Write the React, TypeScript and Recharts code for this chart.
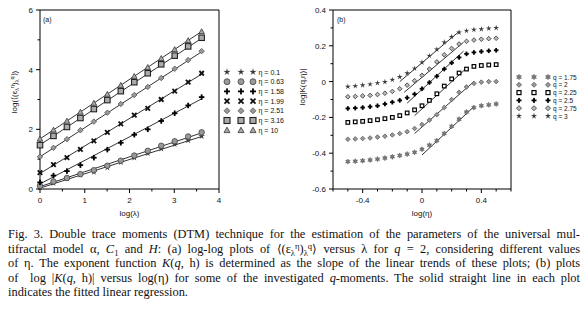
import React from "react";
import { ScatterChart, Scatter, XAxis, YAxis, ReferenceLine } from "recharts";

// ---- panel (a): log<(eps^eta)^q> vs log(lambda), q = 2
const lambdaLog = [0, 0.301, 0.602, 0.903, 1.204, 1.505, 1.806, 2.107, 2.408, 2.709, 3.01, 3.311, 3.612];
const etaLabels = ["0.1", "0.63", "1.58", "1.99", "2.51", "3.16", "10"];
const etaKinds = ["star5", "circle", "plus", "xcross", "diamond", "square", "triangle"];
const eta01 = [0.05, 0.2, 0.35, 0.47, 0.57, 0.72, 0.9, 1.05, 1.2, 1.35, 1.5, 1.63, 1.77];
const eta063 = [0.1, 0.25, 0.37, 0.5, 0.63, 0.78, 0.95, 1.12, 1.28, 1.45, 1.6, 1.76, 1.9];
const eta158 = [0.22, 0.45, 0.6, 0.8, 1.05, 1.32, 1.55, 1.82, 2.0, 2.28, 2.54, 2.8, 3.08];
const eta199 = [0.55, 0.82, 1.05, 1.33, 1.61, 1.9, 2.18, 2.48, 2.7, 3.0, 3.28, 3.58, 3.88];
const eta251 = [1.08, 1.38, 1.67, 1.97, 2.26, 2.56, 2.85, 3.15, 3.42, 3.72, 4.03, 4.32, 4.62];
const eta316 = [1.47, 1.78, 2.08, 2.38, 2.68, 2.98, 3.28, 3.58, 3.88, 4.18, 4.47, 4.78, 5.07];
const eta10 = [1.68, 1.98, 2.28, 2.58, 2.88, 3.18, 3.48, 3.78, 4.08, 4.38, 4.68, 4.98, 5.28];
// fitted regression lines (value at first and last lambda)
const fitStartA = [0.03, 0.08, 0.17, 0.52, 1.08, 1.48, 1.68];
const fitEndA = [1.76, 1.88, 3.02, 3.85, 4.6, 5.05, 5.28];
const xTicksA = [0, 0.5, 1, 1.5, 2, 2.5, 3, 3.5, 4];
const xLabelsA = [0, 1, 2, 3, 4];
const yTicksA = [0, 1, 2, 3, 4, 5, 6];
const yLabelsA = [0, 2, 4, 6];

// ---- panel (b): log|K(q,eta)| vs log(eta)
const etaLog = [-0.5, -0.45, -0.4, -0.35, -0.3, -0.25, -0.2, -0.15, -0.1, -0.05, 0, 0.05, 0.1, 0.15, 0.2, 0.25, 0.3, 0.35, 0.4, 0.45, 0.5];
const qLabels = ["1.75", "2", "2.25", "2.5", "2.75", "3"];
const qKinds = ["star6", "diamond", "osquare", "plus", "odiamond", "star5"];
const k175 = [-0.447, -0.445, -0.442, -0.438, -0.433, -0.427, -0.42, -0.413, -0.405, -0.395, -0.378, -0.355, -0.33, -0.29, -0.25, -0.21, -0.17, -0.145, -0.135, -0.13, -0.125];
const k200 = [-0.322, -0.32, -0.318, -0.315, -0.31, -0.305, -0.298, -0.29, -0.28, -0.262, -0.24, -0.215, -0.185, -0.145, -0.1, -0.06, -0.03, -0.01, -0.003, 0, 0];
const k225 = [-0.228, -0.225, -0.222, -0.218, -0.213, -0.207, -0.2, -0.19, -0.175, -0.158, -0.135, -0.105, -0.068, -0.025, 0.015, 0.048, 0.07, 0.085, 0.09, 0.093, 0.095];
const k250 = [-0.15, -0.148, -0.145, -0.14, -0.135, -0.125, -0.115, -0.105, -0.09, -0.07, -0.04, -0.005, 0.03, 0.07, 0.105, 0.135, 0.155, 0.163, 0.168, 0.172, 0.175];
const k275 = [-0.085, -0.083, -0.08, -0.077, -0.072, -0.065, -0.055, -0.04, -0.02, 0.005, 0.035, 0.07, 0.11, 0.15, 0.185, 0.21, 0.225, 0.232, 0.237, 0.24, 0.242];
const k300 = [-0.028, -0.025, -0.02, -0.015, -0.008, -0.002, 0.01, 0.026, 0.047, 0.073, 0.107, 0.144, 0.18, 0.22, 0.25, 0.275, 0.284, 0.29, 0.293, 0.297, 0.3];
const fitX1B = [0, -0.05, -0.05, -0.1, -0.12, -0.15];
const fitY1B = [-0.41, -0.29, -0.19, -0.12, -0.06, 0.0];
const fitX2B = [0.35, 0.35, 0.3, 0.28, 0.28, 0.25];
const fitY2B = [-0.14, 0.0, 0.075, 0.17, 0.22, 0.28];
const xTicksB = [-0.6, -0.5, -0.4, -0.3, -0.2, -0.1, 0, 0.1, 0.2, 0.3, 0.4, 0.5, 0.6];
const xLabelsB = [-0.4, 0, 0.4];
const yTicksB = [-0.6, -0.5, -0.4, -0.3, -0.2, -0.1, 0, 0.1, 0.2, 0.3, 0.4];
const yLabelsB = [-0.6, -0.4, -0.2, 0, 0.2, 0.4];

const seriesA = [eta01, eta063, eta158, eta199, eta251, eta316, eta10];
const seriesB = [k175, k200, k225, k250, k275, k300];

const SANS = "Liberation Sans, Arial, sans-serif";

function starPts(cx: number, cy: number, R: number, r: number, n: number) {
  const pts: string[] = [];
  for (let i = 0; i < n * 2; i++) {
    const a = (Math.PI * i) / n - Math.PI / 2;
    const rr = i % 2 === 0 ? R : r;
    pts.push(`${cx + rr * Math.cos(a)},${cy + rr * Math.sin(a)}`);
  }
  return pts.join(" ");
}

function Mark({ cx, cy, kind, s }: { cx: number; cy: number; kind: string; s: number }) {
  const h = s / 2;
  switch (kind) {
    case "star5":
      return <polygon points={starPts(cx, cy, h + 0.8, h * 0.45, 5)} fill="#3a3a3a" />;
    case "star6":
      return <polygon points={starPts(cx, cy, h + 0.3, h * 0.6, 6)} fill="#777" stroke="#555" strokeWidth={0.5} />;
    case "circle":
      return <circle cx={cx} cy={cy} r={h} fill="#999" stroke="#444" strokeWidth={0.8} />;
    case "plus":
      return (
        <g fill="#000">
          <rect x={cx - h} y={cy - 0.9} width={s} height={1.8} />
          <rect x={cx - 0.9} y={cy - h} width={1.8} height={s} />
        </g>
      );
    case "xcross":
      return (
        <g stroke="#111" strokeWidth={1.8}>
          <line x1={cx - h + 0.5} y1={cy - h + 0.5} x2={cx + h - 0.5} y2={cy + h - 0.5} />
          <line x1={cx - h + 0.5} y1={cy + h - 0.5} x2={cx + h - 0.5} y2={cy - h + 0.5} />
        </g>
      );
    case "diamond":
      return <polygon points={`${cx},${cy - h} ${cx + h},${cy} ${cx},${cy + h} ${cx - h},${cy}`} fill="#999" stroke="#555" strokeWidth={0.8} />;
    case "odiamond":
      return <polygon points={`${cx},${cy - h} ${cx + h},${cy} ${cx},${cy + h} ${cx - h},${cy}`} fill="#bbb" stroke="#444" strokeWidth={0.9} />;
    case "square":
      return <rect x={cx - h} y={cy - h} width={s} height={s} fill="#aaa" stroke="#222" strokeWidth={1.1} />;
    case "osquare":
      return <rect x={cx - h + 0.5} y={cy - h + 0.5} width={s - 1} height={s - 1} fill="#fff" stroke="#000" strokeWidth={1.2} />;
    case "triangle":
      return <polygon points={`${cx},${cy - h} ${cx + h},${cy + h * 0.8} ${cx - h},${cy + h * 0.8}`} fill="#aaa" stroke="#333" strokeWidth={0.8} />;
    default:
      return null;
  }
}

const isIn = (v: number, list: number[]) => list.some((l) => Math.abs(l - v) < 1e-6);
const fmt = (v: number) => (Math.abs(v) < 1e-9 ? "0" : String(Math.round(v * 10) / 10));

function makeXTick(labels: number[]) {
  return (p: any) => {
    const v = p.payload.value;
    const major = isIn(v, labels);
    return (
      <g>
        <line x1={p.x} y1={p.y} x2={p.x} y2={p.y + (major ? 4 : 2.5)} stroke="#000" strokeWidth={1} />
        {major && (
          <text x={p.x} y={p.y + 14} textAnchor="middle" fontSize={8} fontFamily={SANS} fill="#111">
            {fmt(v)}
          </text>
        )}
      </g>
    );
  };
}

function makeYTick(labels: number[]) {
  return (p: any) => {
    const v = p.payload.value;
    const major = isIn(v, labels);
    return (
      <g>
        <line x1={p.x} y1={p.y} x2={p.x - (major ? 4 : 2.5)} y2={p.y} stroke="#000" strokeWidth={1} />
        {major && (
          <text x={p.x - 7} y={p.y + 3} textAnchor="end" fontSize={8} fontFamily={SANS} fill="#111">
            {fmt(v)}
          </text>
        )}
      </g>
    );
  };
}

const YLabelA = (props: any) => {
  const vb = props.viewBox;
  const x = vb.x + 7;
  const y = 92;
  return (
    <text transform={`translate(${x},${y}) rotate(-90)`} textAnchor="middle" fontSize={8} fontFamily={SANS} fill="#111">
      log(⟨(ε<tspan fontSize={5.5} dy={2}>λ</tspan>
      <tspan fontSize={5.5} dy={-5}>η</tspan>
      <tspan dy={3}>)</tspan>
      <tspan fontSize={5.5} dy={2}>λ</tspan>
      <tspan fontSize={5.5} dy={-5}>q</tspan>
      <tspan dy={3}>⟩)</tspan>
    </text>
  );
};

const YLabelB = (props: any) => {
  const vb = props.viewBox;
  const x = vb.x + 2;
  const y = 87;
  return (
    <text transform={`translate(${x},${y}) rotate(-90)`} textAnchor="middle" fontSize={8} fontFamily={SANS} fill="#111">
      log|K(q,η)|
    </text>
  );
};

function PanelA() {
  return (
    <ScatterChart width={265} height={222} margin={{ top: 10, right: 46, bottom: 0, left: 10 }}>
      <XAxis
        type="number"
        dataKey="x"
        domain={[0, 4]}
        ticks={xTicksA}
        interval={0}
        tickSize={0}
        tickMargin={0}
        tickLine={false}
        tick={makeXTick(xLabelsA)}
        stroke="#000"
        height={33}
        label={{ value: "log(λ)", position: "insideBottom", offset: 6, fontSize: 8, fontFamily: SANS, fill: "#111" }}
      />
      <YAxis
        type="number"
        dataKey="y"
        domain={[0, 6]}
        ticks={yTicksA}
        interval={0}
        tickSize={0}
        tickMargin={0}
        tickLine={false}
        tick={makeYTick(yLabelsA)}
        stroke="#000"
        width={30}
        label={<YLabelA />}
      />
      <ReferenceLine y={6} stroke="#000" strokeWidth={1} />
      <ReferenceLine x={4} stroke="#000" strokeWidth={1} />
      {seriesA.map((s, i) => (
        <ReferenceLine
          key={"fa" + i}
          segment={[
            { x: lambdaLog[0], y: fitStartA[i] },
            { x: lambdaLog[lambdaLog.length - 1], y: fitEndA[i] },
          ]}
          stroke="#000"
          strokeWidth={0.8}
        />
      ))}
      {seriesA.map((s, i) => (
        <Scatter
          key={"sa" + i}
          data={lambdaLog.map((x, j) => ({ x, y: s[j] }))}
          isAnimationActive={false}
          shape={(p: any) => <Mark cx={p.cx} cy={p.cy} kind={etaKinds[i]} s={5.5} />}
        />
      ))}
    </ScatterChart>
  );
}

function PanelB() {
  return (
    <ScatterChart width={298} height={222} margin={{ top: 10, right: 77, bottom: 0, left: 13 }}>
      <XAxis
        type="number"
        dataKey="x"
        domain={[-0.6, 0.6]}
        ticks={xTicksB}
        interval={0}
        tickSize={0}
        tickMargin={0}
        tickLine={false}
        tick={makeXTick(xLabelsB)}
        stroke="#000"
        height={33}
        label={{ value: "log(η)", position: "insideBottom", offset: 6, fontSize: 8, fontFamily: SANS, fill: "#111" }}
      />
      <YAxis
        type="number"
        dataKey="y"
        domain={[-0.6, 0.4]}
        ticks={yTicksB}
        interval={0}
        tickSize={0}
        tickMargin={0}
        tickLine={false}
        tick={makeYTick(yLabelsB)}
        stroke="#000"
        width={30}
        label={<YLabelB />}
      />
      <ReferenceLine y={0.4} stroke="#000" strokeWidth={1} />
      <ReferenceLine x={0.6} stroke="#000" strokeWidth={1} />
      {seriesB.map((s, i) => (
        <ReferenceLine
          key={"fb" + i}
          segment={[
            { x: fitX1B[i], y: fitY1B[i] },
            { x: fitX2B[i], y: fitY2B[i] },
          ]}
          stroke="#000"
          strokeWidth={0.8}
        />
      ))}
      {seriesB.map((s, i) => (
        <Scatter
          key={"sb" + i}
          data={etaLog.map((x, j) => ({ x, y: s[j] }))}
          isAnimationActive={false}
          shape={(p: any) => <Mark cx={p.cx} cy={p.cy} kind={qKinds[i]} s={4.6} />}
        />
      ))}
    </ScatterChart>
  );
}

function LegendA() {
  return (
    <svg width={68} height={80} style={{ position: "absolute", left: 220, top: 62 }}>
      {etaLabels.map((lab, i) => {
        const y = 10 + i * 9.7;
        return (
          <g key={lab}>
            <Mark cx={7} cy={y} kind={etaKinds[i]} s={6} />
            <Mark cx={21} cy={y} kind={etaKinds[i]} s={6} />
            <Mark cx={33} cy={y} kind={etaKinds[i]} s={6} />
            <text x={38.5} y={y + 2.5} fontSize={7} fontFamily={SANS} fill="#111">
              η = {lab}
            </text>
          </g>
        );
      })}
    </svg>
  );
}

function LegendB() {
  return (
    <svg width={74} height={60} style={{ position: "absolute", left: 513, top: 70 }}>
      {qLabels.map((lab, i) => {
        const y = 7 + i * 7.8;
        return (
          <g key={lab}>
            <Mark cx={6} cy={y} kind={qKinds[i]} s={5} />
            <Mark cx={21} cy={y} kind={qKinds[i]} s={5} />
            <Mark cx={35} cy={y} kind={qKinds[i]} s={5} />
            <text x={40} y={y + 2.5} fontSize={6.5} fontFamily={SANS} fill="#111">
              q = {lab}
            </text>
          </g>
        );
      })}
    </svg>
  );
}

const lineStyle: React.CSSProperties = {
  height: 14.5,
  lineHeight: "14.5px",
  textAlign: "justify",
  textAlignLast: "justify",
  whiteSpace: "nowrap",
};
const lo: React.CSSProperties = { fontSize: "70%", position: "relative", top: 3 };
const hi: React.CSSProperties = { fontSize: "70%", position: "relative", top: -4 };

function Caption() {
  return (
    <div
      style={{
        position: "absolute",
        left: 8,
        top: 227,
        width: 572,
        fontFamily: "Liberation Serif, Times New Roman, serif",
        fontSize: 12.4,
        color: "#111",
      }}
    >
      <div style={lineStyle}>
        Fig. 3. Double trace moments (DTM) technique for the estimation of the parameters of the universal mul-
      </div>
      <div style={lineStyle}>
        tifractal model α, <i>C</i>
        <span style={lo}>1</span> and <i>H</i>: (a) log-log plots of ⟨(ε<span style={lo}>λ</span>
        <span style={hi}>η</span>)<span style={lo}>λ</span>
        <span style={hi}>q</span>⟩ versus λ for <i>q</i> = 2, considering different values
      </div>
      <div style={lineStyle}>
        of η. The exponent function <i>K</i>(<i>q</i>, h) is determined as the slope of the linear trends of these plots; (b) plots
      </div>
      <div style={lineStyle}>
        of &nbsp;log |<i>K</i>(<i>q</i>, h)| versus log(η) for some of the investigated <i>q</i>-moments. The solid straight line in each plot
      </div>
      <div style={{ ...lineStyle, textAlignLast: "left" }}>indicates the fitted linear regression.</div>
    </div>
  );
}

export default function App() {
  return (
    <div style={{ position: "absolute", left: 0, top: 0, width: 588, height: 316, background: "#fff", overflow: "hidden" }}>
      <div style={{ position: "absolute", left: 0, top: 0 }}>
        <PanelA />
      </div>
      <div style={{ position: "absolute", left: 290, top: 0 }}>
        <PanelB />
      </div>
      <svg width={588} height={30} style={{ position: "absolute", left: 0, top: 0 }}>
        <text x={43} y={22} fontSize={7} fontFamily={SANS} fill="#111">(a)</text>
        <text x={337} y={22} fontSize={7} fontFamily={SANS} fill="#111">(b)</text>
      </svg>
      <LegendA />
      <LegendB />
      <Caption />
    </div>
  );
}
